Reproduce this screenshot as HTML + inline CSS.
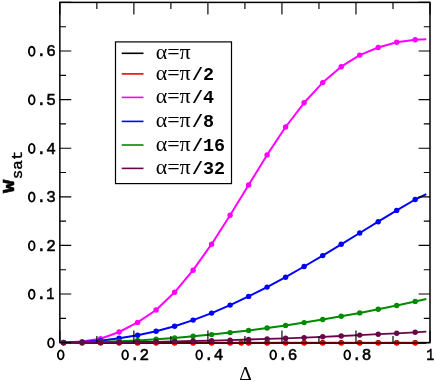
<!DOCTYPE html>
<html><head><meta charset="utf-8"><title>W_sat vs Delta</title>
<style>html,body{margin:0;padding:0;background:#fff;}svg{display:block;}text{filter:grayscale(1);}</style>
</head><body>
<svg width="436" height="382" viewBox="0 0 436 382">
<rect x="0" y="0" width="436" height="382" fill="#fff"/>
<rect x="59.85" y="2.4" width="370.15" height="340.20000000000005" fill="none" stroke="#000" stroke-width="1.5"/>
<polyline points="63.6,342.6 82.1,342.6 100.6,342.6 119.1,342.6 137.6,342.6 156.1,342.6 174.6,342.6 193.1,342.6 211.6,342.6 230.1,342.6 248.6,342.6 267.1,342.6 285.6,342.6 304.1,342.6 322.7,342.6 341.2,342.6 359.7,342.6 378.2,342.6 396.7,342.6 415.2,342.6 426.3,342.6" fill="none" stroke="#000000" stroke-width="1.3" stroke-linejoin="round"/>
<circle cx="63.6" cy="342.6" r="2.7" fill="#000000"/>
<circle cx="82.1" cy="342.6" r="2.7" fill="#000000"/>
<circle cx="100.6" cy="342.6" r="2.7" fill="#000000"/>
<circle cx="119.1" cy="342.6" r="2.7" fill="#000000"/>
<circle cx="137.6" cy="342.6" r="2.7" fill="#000000"/>
<circle cx="156.1" cy="342.6" r="2.7" fill="#000000"/>
<circle cx="174.6" cy="342.6" r="2.7" fill="#000000"/>
<circle cx="193.1" cy="342.6" r="2.7" fill="#000000"/>
<circle cx="211.6" cy="342.6" r="2.7" fill="#000000"/>
<circle cx="230.1" cy="342.6" r="2.7" fill="#000000"/>
<circle cx="248.6" cy="342.6" r="2.7" fill="#000000"/>
<circle cx="267.1" cy="342.6" r="2.7" fill="#000000"/>
<circle cx="285.6" cy="342.6" r="2.7" fill="#000000"/>
<circle cx="304.1" cy="342.6" r="2.7" fill="#000000"/>
<circle cx="322.7" cy="342.6" r="2.7" fill="#000000"/>
<circle cx="341.2" cy="342.6" r="2.7" fill="#000000"/>
<circle cx="359.7" cy="342.6" r="2.7" fill="#000000"/>
<circle cx="378.2" cy="342.6" r="2.7" fill="#000000"/>
<circle cx="396.7" cy="342.6" r="2.7" fill="#000000"/>
<circle cx="415.2" cy="342.6" r="2.7" fill="#000000"/>

<circle cx="63.6" cy="342.9" r="2.75" fill="#ff0000"/>
<circle cx="82.1" cy="342.9" r="2.75" fill="#ff0000"/>
<circle cx="100.6" cy="342.9" r="2.75" fill="#ff0000"/>
<circle cx="119.1" cy="342.9" r="2.75" fill="#ff0000"/>
<circle cx="137.6" cy="342.9" r="2.75" fill="#ff0000"/>
<circle cx="156.1" cy="342.9" r="2.75" fill="#ff0000"/>
<circle cx="174.6" cy="342.9" r="2.75" fill="#ff0000"/>
<circle cx="193.1" cy="342.9" r="2.75" fill="#ff0000"/>
<circle cx="211.6" cy="342.9" r="2.75" fill="#ff0000"/>
<circle cx="230.1" cy="342.9" r="2.75" fill="#ff0000"/>
<circle cx="248.6" cy="342.9" r="2.75" fill="#ff0000"/>
<circle cx="267.1" cy="342.9" r="2.75" fill="#ff0000"/>
<circle cx="285.6" cy="342.9" r="2.75" fill="#ff0000"/>
<circle cx="304.1" cy="342.9" r="2.75" fill="#ff0000"/>
<circle cx="322.7" cy="342.9" r="2.75" fill="#ff0000"/>
<circle cx="341.2" cy="342.9" r="2.75" fill="#ff0000"/>
<circle cx="359.7" cy="342.9" r="2.75" fill="#ff0000"/>
<circle cx="378.2" cy="342.9" r="2.75" fill="#ff0000"/>
<circle cx="396.7" cy="342.9" r="2.75" fill="#ff0000"/>
<circle cx="415.2" cy="342.9" r="2.75" fill="#ff0000"/>
<circle cx="241.2" cy="342.9" r="2.75" fill="#ff0000"/>

<line x1="63.6" y1="342.90000000000003" x2="426.3" y2="342.90000000000003" stroke="#5c0000" stroke-width="2"/>
<polyline points="63.6,342.4 82.1,341.6 100.6,338.7 119.1,332.0 137.6,322.4 156.1,310.0 174.6,292.3 193.1,270.2 211.6,244.2 230.1,215.3 248.6,185.0 267.1,154.9 285.6,127.0 304.1,102.8 322.7,82.6 341.2,66.7 359.7,55.1 378.2,47.5 396.7,42.3 415.2,39.8 426.3,39.3" fill="none" stroke="#ff00ff" stroke-width="2" stroke-linejoin="round"/>
<circle cx="63.6" cy="342.4" r="2.7" fill="#ff00ff"/>
<circle cx="82.1" cy="341.6" r="2.7" fill="#ff00ff"/>
<circle cx="100.6" cy="338.7" r="2.7" fill="#ff00ff"/>
<circle cx="119.1" cy="332.0" r="2.7" fill="#ff00ff"/>
<circle cx="137.6" cy="322.4" r="2.7" fill="#ff00ff"/>
<circle cx="156.1" cy="310.0" r="2.7" fill="#ff00ff"/>
<circle cx="174.6" cy="292.3" r="2.7" fill="#ff00ff"/>
<circle cx="193.1" cy="270.2" r="2.7" fill="#ff00ff"/>
<circle cx="211.6" cy="244.2" r="2.7" fill="#ff00ff"/>
<circle cx="230.1" cy="215.3" r="2.7" fill="#ff00ff"/>
<circle cx="248.6" cy="185.0" r="2.7" fill="#ff00ff"/>
<circle cx="267.1" cy="154.9" r="2.7" fill="#ff00ff"/>
<circle cx="285.6" cy="127.0" r="2.7" fill="#ff00ff"/>
<circle cx="304.1" cy="102.8" r="2.7" fill="#ff00ff"/>
<circle cx="322.7" cy="82.6" r="2.7" fill="#ff00ff"/>
<circle cx="341.2" cy="66.7" r="2.7" fill="#ff00ff"/>
<circle cx="359.7" cy="55.1" r="2.7" fill="#ff00ff"/>
<circle cx="378.2" cy="47.5" r="2.7" fill="#ff00ff"/>
<circle cx="396.7" cy="42.3" r="2.7" fill="#ff00ff"/>
<circle cx="415.2" cy="39.8" r="2.7" fill="#ff00ff"/>

<polyline points="63.6,342.5 82.1,342.1 100.6,340.7 119.1,338.3 137.6,335.3 156.1,331.3 174.6,326.3 193.1,320.1 211.6,313.1 230.1,305.1 248.6,296.4 267.1,287.1 285.6,277.2 304.1,266.5 322.7,255.6 341.2,244.3 359.7,233.0 378.2,221.7 396.7,210.4 415.2,199.5 426.3,194.2" fill="none" stroke="#0000ff" stroke-width="2" stroke-linejoin="round"/>
<circle cx="63.6" cy="342.5" r="2.7" fill="#0000ff"/>
<circle cx="82.1" cy="342.1" r="2.7" fill="#0000ff"/>
<circle cx="100.6" cy="340.7" r="2.7" fill="#0000ff"/>
<circle cx="119.1" cy="338.3" r="2.7" fill="#0000ff"/>
<circle cx="137.6" cy="335.3" r="2.7" fill="#0000ff"/>
<circle cx="156.1" cy="331.3" r="2.7" fill="#0000ff"/>
<circle cx="174.6" cy="326.3" r="2.7" fill="#0000ff"/>
<circle cx="193.1" cy="320.1" r="2.7" fill="#0000ff"/>
<circle cx="211.6" cy="313.1" r="2.7" fill="#0000ff"/>
<circle cx="230.1" cy="305.1" r="2.7" fill="#0000ff"/>
<circle cx="248.6" cy="296.4" r="2.7" fill="#0000ff"/>
<circle cx="267.1" cy="287.1" r="2.7" fill="#0000ff"/>
<circle cx="285.6" cy="277.2" r="2.7" fill="#0000ff"/>
<circle cx="304.1" cy="266.5" r="2.7" fill="#0000ff"/>
<circle cx="322.7" cy="255.6" r="2.7" fill="#0000ff"/>
<circle cx="341.2" cy="244.3" r="2.7" fill="#0000ff"/>
<circle cx="359.7" cy="233.0" r="2.7" fill="#0000ff"/>
<circle cx="378.2" cy="221.7" r="2.7" fill="#0000ff"/>
<circle cx="396.7" cy="210.4" r="2.7" fill="#0000ff"/>
<circle cx="415.2" cy="199.5" r="2.7" fill="#0000ff"/>

<polyline points="63.6,342.6 82.1,342.4 100.6,342.0 119.1,341.3 137.6,340.4 156.1,339.2 174.6,337.9 193.1,336.3 211.6,334.6 230.1,332.6 248.6,330.4 267.1,328.0 285.6,325.4 304.1,322.6 322.7,319.5 341.2,316.3 359.7,312.9 378.2,309.3 396.7,305.5 415.2,301.4 426.3,298.9" fill="none" stroke="#008b00" stroke-width="2" stroke-linejoin="round"/>
<circle cx="63.6" cy="342.6" r="2.7" fill="#008b00"/>
<circle cx="82.1" cy="342.4" r="2.7" fill="#008b00"/>
<circle cx="100.6" cy="342.0" r="2.7" fill="#008b00"/>
<circle cx="119.1" cy="341.3" r="2.7" fill="#008b00"/>
<circle cx="137.6" cy="340.4" r="2.7" fill="#008b00"/>
<circle cx="156.1" cy="339.2" r="2.7" fill="#008b00"/>
<circle cx="174.6" cy="337.9" r="2.7" fill="#008b00"/>
<circle cx="193.1" cy="336.3" r="2.7" fill="#008b00"/>
<circle cx="211.6" cy="334.6" r="2.7" fill="#008b00"/>
<circle cx="230.1" cy="332.6" r="2.7" fill="#008b00"/>
<circle cx="248.6" cy="330.4" r="2.7" fill="#008b00"/>
<circle cx="267.1" cy="328.0" r="2.7" fill="#008b00"/>
<circle cx="285.6" cy="325.4" r="2.7" fill="#008b00"/>
<circle cx="304.1" cy="322.6" r="2.7" fill="#008b00"/>
<circle cx="322.7" cy="319.5" r="2.7" fill="#008b00"/>
<circle cx="341.2" cy="316.3" r="2.7" fill="#008b00"/>
<circle cx="359.7" cy="312.9" r="2.7" fill="#008b00"/>
<circle cx="378.2" cy="309.3" r="2.7" fill="#008b00"/>
<circle cx="396.7" cy="305.5" r="2.7" fill="#008b00"/>
<circle cx="415.2" cy="301.4" r="2.7" fill="#008b00"/>

<polyline points="63.6,342.6 82.1,342.5 100.6,342.4 119.1,342.3 137.6,342.0 156.1,341.8 174.6,341.4 193.1,341.0 211.6,340.6 230.1,340.1 248.6,339.5 267.1,338.9 285.6,338.3 304.1,337.6 322.7,336.8 341.2,336.0 359.7,335.1 378.2,334.2 396.7,333.3 415.2,332.3 426.3,331.6" fill="none" stroke="#670748" stroke-width="1.8" stroke-linejoin="round"/>
<circle cx="63.6" cy="342.6" r="2.7" fill="#670748"/>
<circle cx="82.1" cy="342.5" r="2.7" fill="#670748"/>
<circle cx="100.6" cy="342.4" r="2.7" fill="#670748"/>
<circle cx="119.1" cy="342.3" r="2.7" fill="#670748"/>
<circle cx="137.6" cy="342.0" r="2.7" fill="#670748"/>
<circle cx="156.1" cy="341.8" r="2.7" fill="#670748"/>
<circle cx="174.6" cy="341.4" r="2.7" fill="#670748"/>
<circle cx="193.1" cy="341.0" r="2.7" fill="#670748"/>
<circle cx="211.6" cy="340.6" r="2.7" fill="#670748"/>
<circle cx="230.1" cy="340.1" r="2.7" fill="#670748"/>
<circle cx="248.6" cy="339.5" r="2.7" fill="#670748"/>
<circle cx="267.1" cy="338.9" r="2.7" fill="#670748"/>
<circle cx="285.6" cy="338.3" r="2.7" fill="#670748"/>
<circle cx="304.1" cy="337.6" r="2.7" fill="#670748"/>
<circle cx="322.7" cy="336.8" r="2.7" fill="#670748"/>
<circle cx="341.2" cy="336.0" r="2.7" fill="#670748"/>
<circle cx="359.7" cy="335.1" r="2.7" fill="#670748"/>
<circle cx="378.2" cy="334.2" r="2.7" fill="#670748"/>
<circle cx="396.7" cy="333.3" r="2.7" fill="#670748"/>
<circle cx="415.2" cy="332.3" r="2.7" fill="#670748"/>

<path d="M59.85,342.6v-12.2M59.85,2.4v12.2M96.87,342.6v-6.6M96.87,2.4v6.6M133.88,342.6v-12.2M133.88,2.4v12.2M170.89,342.6v-6.6M170.89,2.4v6.6M207.91,342.6v-12.2M207.91,2.4v12.2M244.92,342.6v-6.6M244.92,2.4v6.6M281.94,342.6v-12.2M281.94,2.4v12.2M318.95,342.6v-6.6M318.95,2.4v6.6M355.97,342.6v-12.2M355.97,2.4v12.2M392.99,342.6v-6.6M392.99,2.4v6.6M430.00,342.6v-12.2M430.00,2.4v12.2M59.85,342.60h11.4M430.0,342.60h-11.4M59.85,318.30h6.2M430.0,318.30h-6.2M59.85,294.00h11.4M430.0,294.00h-11.4M59.85,269.70h6.2M430.0,269.70h-6.2M59.85,245.40h11.4M430.0,245.40h-11.4M59.85,221.10h6.2M430.0,221.10h-6.2M59.85,196.80h11.4M430.0,196.80h-11.4M59.85,172.50h6.2M430.0,172.50h-6.2M59.85,148.20h11.4M430.0,148.20h-11.4M59.85,123.90h6.2M430.0,123.90h-6.2M59.85,99.60h11.4M430.0,99.60h-11.4M59.85,75.30h6.2M430.0,75.30h-6.2M59.85,51.00h11.4M430.0,51.00h-11.4M59.85,26.70h6.2M430.0,26.70h-6.2M59.85,2.40h11.4M430.0,2.40h-11.4" stroke="#000" stroke-width="1.15" fill="none"/>
<ellipse cx="51.00" cy="342.85" rx="2.85" ry="4.55" fill="none" stroke="#000" stroke-width="1.85"/>
<ellipse cx="31.74" cy="294.25" rx="2.85" ry="4.55" fill="none" stroke="#000" stroke-width="1.85"/><text x="41.37" y="299.30" font-family="Liberation Mono, monospace" font-size="16" text-anchor="middle" stroke="#000" stroke-width="0.55">.</text><text transform="translate(50.40,299.30) scale(0.84,1)" x="0" y="0" font-family="Liberation Mono, monospace" font-size="16" text-anchor="middle" stroke="#000" stroke-width="0.55">1</text>
<ellipse cx="31.74" cy="245.65" rx="2.85" ry="4.55" fill="none" stroke="#000" stroke-width="1.85"/><text x="41.37" y="250.70" font-family="Liberation Mono, monospace" font-size="16" text-anchor="middle" stroke="#000" stroke-width="0.55">.</text><text x="51.00" y="250.70" font-family="Liberation Mono, monospace" font-size="16" text-anchor="middle" stroke="#000" stroke-width="0.55">2</text>
<ellipse cx="31.74" cy="197.05" rx="2.85" ry="4.55" fill="none" stroke="#000" stroke-width="1.85"/><text x="41.37" y="202.10" font-family="Liberation Mono, monospace" font-size="16" text-anchor="middle" stroke="#000" stroke-width="0.55">.</text><text x="51.00" y="202.10" font-family="Liberation Mono, monospace" font-size="16" text-anchor="middle" stroke="#000" stroke-width="0.55">3</text>
<ellipse cx="31.74" cy="148.45" rx="2.85" ry="4.55" fill="none" stroke="#000" stroke-width="1.85"/><text x="41.37" y="153.50" font-family="Liberation Mono, monospace" font-size="16" text-anchor="middle" stroke="#000" stroke-width="0.55">.</text><text x="51.00" y="153.50" font-family="Liberation Mono, monospace" font-size="16" text-anchor="middle" stroke="#000" stroke-width="0.55">4</text>
<ellipse cx="31.74" cy="99.85" rx="2.85" ry="4.55" fill="none" stroke="#000" stroke-width="1.85"/><text x="41.37" y="104.90" font-family="Liberation Mono, monospace" font-size="16" text-anchor="middle" stroke="#000" stroke-width="0.55">.</text><text x="51.00" y="104.90" font-family="Liberation Mono, monospace" font-size="16" text-anchor="middle" stroke="#000" stroke-width="0.55">5</text>
<ellipse cx="31.74" cy="51.25" rx="2.85" ry="4.55" fill="none" stroke="#000" stroke-width="1.85"/><text x="41.37" y="56.30" font-family="Liberation Mono, monospace" font-size="16" text-anchor="middle" stroke="#000" stroke-width="0.55">.</text><text x="51.00" y="56.30" font-family="Liberation Mono, monospace" font-size="16" text-anchor="middle" stroke="#000" stroke-width="0.55">6</text>
<ellipse cx="60.75" cy="354.85" rx="2.85" ry="4.55" fill="none" stroke="#000" stroke-width="1.85"/>
<ellipse cx="125.15" cy="354.85" rx="2.85" ry="4.55" fill="none" stroke="#000" stroke-width="1.85"/><text x="134.78" y="359.90" font-family="Liberation Mono, monospace" font-size="16" text-anchor="middle" stroke="#000" stroke-width="0.55">.</text><text x="144.41" y="359.90" font-family="Liberation Mono, monospace" font-size="16" text-anchor="middle" stroke="#000" stroke-width="0.55">2</text>
<ellipse cx="199.18" cy="354.85" rx="2.85" ry="4.55" fill="none" stroke="#000" stroke-width="1.85"/><text x="208.81" y="359.90" font-family="Liberation Mono, monospace" font-size="16" text-anchor="middle" stroke="#000" stroke-width="0.55">.</text><text x="218.44" y="359.90" font-family="Liberation Mono, monospace" font-size="16" text-anchor="middle" stroke="#000" stroke-width="0.55">4</text>
<ellipse cx="273.21" cy="354.85" rx="2.85" ry="4.55" fill="none" stroke="#000" stroke-width="1.85"/><text x="282.84" y="359.90" font-family="Liberation Mono, monospace" font-size="16" text-anchor="middle" stroke="#000" stroke-width="0.55">.</text><text x="292.47" y="359.90" font-family="Liberation Mono, monospace" font-size="16" text-anchor="middle" stroke="#000" stroke-width="0.55">6</text>
<ellipse cx="347.24" cy="354.85" rx="2.85" ry="4.55" fill="none" stroke="#000" stroke-width="1.85"/><text x="356.87" y="359.90" font-family="Liberation Mono, monospace" font-size="16" text-anchor="middle" stroke="#000" stroke-width="0.55">.</text><text x="366.50" y="359.90" font-family="Liberation Mono, monospace" font-size="16" text-anchor="middle" stroke="#000" stroke-width="0.55">8</text>
<text transform="translate(430.30,359.90) scale(0.84,1)" x="0" y="0" font-family="Liberation Mono, monospace" font-size="16" text-anchor="middle" stroke="#000" stroke-width="0.55">1</text>
<text x="245.5" y="380.4" font-family="Liberation Serif, serif" font-size="19.5" text-anchor="middle">Δ</text>
<g transform="translate(13.6,192.9) rotate(-90)"><text transform="scale(1.34,1)" x="0" y="0" font-family="Liberation Mono, monospace" font-weight="bold" font-size="16.5" stroke="#000" stroke-width="0.5">W</text><text transform="translate(13.6,8.3) scale(1.13,1)" x="0" y="0" font-family="Liberation Mono, monospace" font-size="14" stroke="#000" stroke-width="0.4">sat</text></g>
<rect x="115.5" y="41.9" width="116" height="141.7" fill="#fff" stroke="#000" stroke-width="1.2"/>
<line x1="121.7" y1="53.3" x2="143.5" y2="53.3" stroke="#000000" stroke-width="1.6"/>
<text x="155.7" y="59.3" font-family="Liberation Serif, serif" font-size="22">α=π<tspan font-family="Liberation Mono, monospace" font-weight="bold" dx="1.2" font-size="18.4"></tspan></text>
<line x1="121.7" y1="73.9" x2="143.5" y2="73.9" stroke="#ff0000" stroke-width="1.6"/>
<text x="155.7" y="79.9" font-family="Liberation Serif, serif" font-size="22">α=π<tspan font-family="Liberation Mono, monospace" font-weight="bold" dx="1.2" font-size="18.4">/2</tspan></text>
<line x1="121.7" y1="97.4" x2="143.5" y2="97.4" stroke="#ff00ff" stroke-width="1.6"/>
<text x="155.7" y="103.4" font-family="Liberation Serif, serif" font-size="22">α=π<tspan font-family="Liberation Mono, monospace" font-weight="bold" dx="1.2" font-size="18.4">/4</tspan></text>
<line x1="121.7" y1="121.4" x2="143.5" y2="121.4" stroke="#0000ff" stroke-width="1.6"/>
<text x="155.7" y="127.4" font-family="Liberation Serif, serif" font-size="22">α=π<tspan font-family="Liberation Mono, monospace" font-weight="bold" dx="1.2" font-size="18.4">/8</tspan></text>
<line x1="121.7" y1="145.0" x2="143.5" y2="145.0" stroke="#008b00" stroke-width="1.6"/>
<text x="155.7" y="151.0" font-family="Liberation Serif, serif" font-size="22">α=π<tspan font-family="Liberation Mono, monospace" font-weight="bold" dx="1.2" font-size="18.4">/16</tspan></text>
<line x1="121.7" y1="168.4" x2="143.5" y2="168.4" stroke="#670748" stroke-width="1.6"/>
<text x="155.7" y="174.4" font-family="Liberation Serif, serif" font-size="22">α=π<tspan font-family="Liberation Mono, monospace" font-weight="bold" dx="1.2" font-size="18.4">/32</tspan></text>
</svg>
</body></html>
